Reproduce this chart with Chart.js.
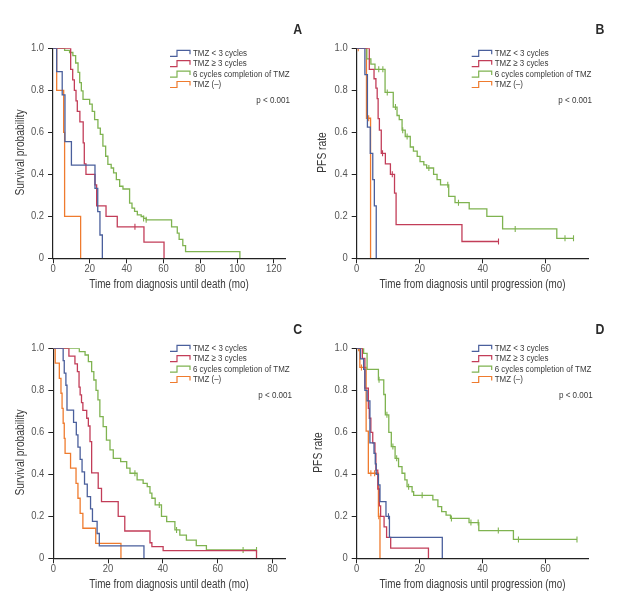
<!DOCTYPE html>
<html>
<head>
<meta charset="utf-8">
<script src="https://cdn.jsdelivr.net/npm/chart.js@4.4.0/dist/chart.umd.min.js"></script>
<style>
  html, body { margin: 0; padding: 0; background: #fff; }
  #wrap { position: relative; width: 636px; height: 600px; }
  canvas { position: absolute; }
</style>
</head>
<body>
<div id="wrap">
  <canvas id="cA" width="318" height="300" style="left:0;top:0"></canvas>
  <canvas id="cB" width="326" height="300" style="left:310px;top:0"></canvas>
  <canvas id="cC" width="318" height="300" style="left:0;top:300px"></canvas>
  <canvas id="cD" width="326" height="300" style="left:310px;top:300px"></canvas>
</div>
<script>
// legend / group names
const groups = ['TMZ < 3 cycles', 'TMZ \u2265 3 cycles', '6 cycles completion of TMZ', 'TMZ (\u2013)'];

// ---- A: overall survival (first cohort) ----
const aBlueT = [0, 2, 5, 6.5, 10, 22.8, 24.3, 25.5, 26.8];
const aBlueS = [1, 0.889, 0.778, 0.556, 0.444, 0.333, 0.222, 0.111, 0];
const aRedT = [0, 9.6, 10.7, 11.6, 12.5, 13.2, 14.6, 16.4, 17, 17.9, 22.8, 23.7, 28.8, 34.9, 49.4, 60.3];
const aRedS = [1, 0.9, 0.85, 0.8, 0.75, 0.7, 0.65, 0.55, 0.45, 0.4, 0.35, 0.25, 0.2, 0.15, 0.077, 0];
const aGreenT = [0, 6.3, 9, 10.8, 12.3, 13.6, 14.5, 15.4, 16.3, 19.9, 21.3, 22.6, 24.4, 25.7, 27.1, 28.6, 29.8, 31.6, 32.9, 34.4, 36.2, 38, 41.6, 42.9, 44.3, 45.8, 47.9, 49.2, 50.6, 64.4, 67.5, 68.5, 70.5, 72, 101.5];
const aGreenS = [1, 0.99, 0.98, 0.965, 0.93, 0.885, 0.837, 0.797, 0.757, 0.734, 0.7, 0.66, 0.62, 0.59, 0.534, 0.486, 0.447, 0.43, 0.407, 0.375, 0.343, 0.33, 0.263, 0.239, 0.223, 0.207, 0.199, 0.19, 0.183, 0.15, 0.12, 0.09, 0.06, 0.032, 0];
const aOrangeT = [0, 2, 5.8, 6.3, 15];
const aOrangeS = [1, 0.8, 0.6, 0.2, 0];
const aCensT = [[], [44.5], [49.2, 50.6], []];
const aCensS = [[], [0.15], [0.19, 0.183], []];

// ---- B: PFS (first cohort) ----
const bBlueT = [0, 2.6, 3.4, 4.3, 5.1, 5.6, 6.2];
const bBlueS = [1, 0.875, 0.625, 0.5, 0.375, 0.25, 0];
const bRedT = [0, 4.0, 5.5, 6.1, 6.5, 6.8, 7.2, 7.8, 9.1, 10.7, 12, 12.5, 33.4, 45];
const bRedS = [1, 0.9, 0.855, 0.81, 0.76, 0.665, 0.61, 0.5, 0.45, 0.4, 0.31, 0.16, 0.08, 0.08];
const bGreenT = [0, 3.2, 4.5, 5.8, 9.0, 11.6, 12.8, 13.5, 14.4, 15.4, 17, 18, 19.2, 20.1, 21.3, 22.2, 24.4, 25.5, 26.6, 29.2, 31.2, 35.7, 41.3, 46.3, 63.5, 68.8];
const bGreenS = [1, 0.95, 0.925, 0.9, 0.79, 0.72, 0.68, 0.66, 0.61, 0.58, 0.53, 0.51, 0.485, 0.46, 0.445, 0.43, 0.4, 0.375, 0.35, 0.295, 0.265, 0.235, 0.2, 0.14, 0.095, 0.095];
const bOrangeT = [0, 3.1, 4.4];
const bOrangeS = [1, 0.667, 0];
const bCensT = [[], [8.2, 11.3, 45], [7, 8.3, 9.7, 12.3, 14.6, 16, 22.9, 28.9, 32.3, 50.3, 66.1, 68.8], [0.5, 3.8]];
const bCensS = [[], [0.5, 0.4, 0.08], [0.9, 0.9, 0.79, 0.72, 0.61, 0.58, 0.43, 0.35, 0.265, 0.14, 0.095, 0.095], [1, 0.667]];

// ---- C: overall survival (second cohort) ----
const cBlueT = [0, 3.6, 4.0, 4.6, 5.0, 7.4, 8.4, 9.0, 9.8, 10.5, 11.4, 12.4, 13.6, 14.3, 16.0, 16.8, 33.1];
const cBlueS = [1, 0.941, 0.882, 0.824, 0.706, 0.647, 0.588, 0.529, 0.471, 0.412, 0.353, 0.294, 0.235, 0.176, 0.118, 0.059, 0];
const cRedT = [0, 5.7, 7.9, 8.8, 9.4, 9.8, 10.3, 10.8, 12.2, 12.8, 13.4, 14, 16.4, 17.6, 23.7, 26.1, 35.3, 36, 40.1, 74.2];
const cRedS = [1, 0.963, 0.926, 0.889, 0.815, 0.778, 0.741, 0.704, 0.667, 0.63, 0.556, 0.407, 0.333, 0.27, 0.2, 0.13, 0.074, 0.056, 0.037, 0];
const cGreenT = [0, 9.5, 11.6, 12.8, 14, 14.8, 15.6, 16.3, 17, 18.2, 19.4, 20.7, 21.9, 24.6, 26.8, 28, 30.6, 32.8, 34.3, 35.3, 36, 37.2, 39.5, 41.4, 44.4, 46.2, 48.6, 52.2, 55.9, 74.2];
const cGreenS = [1, 0.984, 0.968, 0.937, 0.889, 0.849, 0.8, 0.754, 0.675, 0.627, 0.563, 0.516, 0.476, 0.46, 0.429, 0.405, 0.373, 0.357, 0.341, 0.31, 0.286, 0.254, 0.2, 0.175, 0.135, 0.11, 0.087, 0.06, 0.04, 0.04];
const cOrangeT = [0, 0.7, 2.2, 2.8, 3.2, 3.6, 4.0, 4.3, 6.3, 8.3, 9.0, 9.8, 10.8, 15.5, 24.7];
const cOrangeS = [1, 0.929, 0.857, 0.786, 0.714, 0.643, 0.571, 0.5, 0.429, 0.357, 0.286, 0.214, 0.143, 0.071, 0];
const cCensT = [[], [], [29.8, 38.7, 45, 69.3, 74.2], []];
const cCensS = [[], [], [0.405, 0.254, 0.135, 0.04, 0.04], []];

// ---- D: PFS (second cohort) ----
const dBlueT = [0, 1.2, 2.2, 2.6, 3.3, 4.2, 5.5, 5.9, 6.2, 6.9, 7.4, 9.3, 10.4, 27.2];
const dBlueS = [1, 0.95, 0.9, 0.8, 0.75, 0.55, 0.5, 0.45, 0.4, 0.35, 0.27, 0.2, 0.1, 0];
const dRedT = [0, 1.8, 2.6, 3.7, 4.0, 4.5, 5.1, 5.8, 6.1, 6.7, 7.2, 7.6, 8.7, 9.5, 10.8, 22.8];
const dRedS = [1, 0.952, 0.81, 0.714, 0.667, 0.6, 0.55, 0.5, 0.42, 0.33, 0.25, 0.2, 0.15, 0.1, 0.048, 0];
const dGreenT = [0, 2.2, 3.3, 6.9, 8.6, 9.1, 10.2, 11, 12.2, 13.3, 14.4, 15.3, 16, 17.6, 18.1, 24.2, 25.8, 27, 28.4, 29.8, 35.7, 38.8, 49.8, 70];
const dGreenS = [1, 0.976, 0.9, 0.85, 0.78, 0.683, 0.6, 0.532, 0.476, 0.437, 0.405, 0.373, 0.341, 0.317, 0.3, 0.278, 0.246, 0.222, 0.206, 0.19, 0.17, 0.132, 0.09, 0.09];
const dOrangeT = [0, 1.0, 3.0, 3.7, 6.9, 7.4];
const dOrangeS = [1, 0.909, 0.606, 0.405, 0.2, 0];
const dCensT = [[10.1], [], [1, 7.1, 9.6, 11.5, 12.7, 16.5, 20.8, 30.1, 36.3, 38.6, 45, 51.4, 70], [0.6, 1.5, 4.5, 5.7, 7.0]];
const dCensS = [[0.2], [], [1, 0.85, 0.683, 0.532, 0.476, 0.341, 0.3, 0.19, 0.17, 0.17, 0.132, 0.09, 0.09], [1, 0.909, 0.405, 0.405, 0.2]];

const yTicks = [0, 0.2, 0.4, 0.6, 0.8, 1.0];

const colors = ['#4a5f9c', '#c23d58', '#7fb350', '#ef7b2e'];
const FAM = "'Liberation Sans', Arial, Helvetica, sans-serif";
const NARROW = 0.82; // condensed look of the original lettering

function pts(T, S) {
  return T.map((t, i) => ({ x: t, y: S[i] }));
}

function narrowText(ctx, s, x, y, align, rot) {
  ctx.save();
  ctx.translate(x, y);
  if (rot) ctx.rotate(rot);
  ctx.scale(NARROW, 1);
  ctx.textAlign = align;
  ctx.fillText(s, 0, 0);
  ctx.restore();
}

// text drawn over each panel: tick labels, letter, axis titles, legend, p value
const panelText = {
  id: 'panelText',
  afterDraw(chart, args, o) {
    const ctx = chart.ctx;
    const area = chart.chartArea;
    const xs = chart.scales.x, ys = chart.scales.y;
    ctx.save();
    ctx.textBaseline = 'middle';

    // tick labels
    ctx.fillStyle = '#555';
    ctx.font = '11.5px ' + FAM;
    xs.ticks.forEach(t => {
      narrowText(ctx, String(t.value), xs.getPixelForValue(t.value), area.bottom + 10.5, 'center');
    });
    ys.ticks.forEach(t => {
      const lab = t.value === 0 ? '0' : t.value.toFixed(1);
      narrowText(ctx, lab, area.left - 9, ys.getPixelForValue(t.value), 'right');
    });

    ctx.fillStyle = '#2b2b2b';
    ctx.font = 'bold 15px ' + FAM;
    narrowText(ctx, o.letter, o.letterX, 30, 'center');

    ctx.fillStyle = '#3a3a3a';
    ctx.font = '12px ' + FAM;
    narrowText(ctx, o.xTitle, o.xTitleX, 285, 'center');
    ctx.font = '12.5px ' + FAM;
    narrowText(ctx, o.yTitle, o.yTitleX, 152.5, 'center', -Math.PI / 2);

    ctx.font = '9.7px ' + FAM;
    groups.forEach((name, i) => {
      const x = o.legendX;
      const y = o.legendY + i * 10.4;
      ctx.strokeStyle = colors[i];
      ctx.lineWidth = 1.2;
      ctx.beginPath();
      ctx.moveTo(x, y + 3);
      ctx.lineTo(x + 7, y + 3);
      ctx.lineTo(x + 7, y - 3);
      ctx.lineTo(x + 20, y - 3);
      ctx.lineTo(x + 20, y + 1);
      ctx.stroke();
      narrowText(ctx, name, x + 23, y, 'left');
    });

    ctx.font = '9.8px ' + FAM;
    narrowText(ctx, 'p < 0.001', o.pX, o.pY, 'right');
    ctx.restore();
  }
};

function makePanel(id, series, cens, p) {
  const datasets = [];
  series.forEach((s, i) => {
    datasets.push({
      data: pts(s[0], s[1]),
      borderColor: colors[i],
      borderWidth: 1.3,
      stepped: true,
      pointRadius: 0,
      fill: false
    });
  });
  cens[0].forEach((T, i) => {
    if (!T.length) return;
    datasets.push({
      data: pts(T, cens[1][i]),
      showLine: false,
      pointStyle: 'line',
      pointRotation: 90,
      pointRadius: 3,
      pointBorderWidth: 1.1,
      pointBorderColor: colors[i],
      borderColor: colors[i]
    });
  });

  new Chart(document.getElementById(id), {
    type: 'line',
    data: { datasets: datasets },
    options: {
      responsive: false,
      animation: false,
      events: [],
      layout: { padding: { left: 0, top: 48.3, right: p.padRight, bottom: 0 } },
      scales: {
        x: {
          type: 'linear',
          min: 0,
          max: p.xMax,
          afterFit(scale) { scale.height = 41.7; },
          border: { display: true, color: '#222', width: 1.2 },
          grid: { drawOnChartArea: false, drawTicks: true, tickLength: 5, color: '#222' },
          ticks: { stepSize: 20, includeBounds: false, display: false }
        },
        y: {
          type: 'linear',
          min: 0,
          max: 1,
          afterFit(scale) { scale.width = p.yWidth; },
          afterBuildTicks(scale) { scale.ticks = yTicks.map(v => ({ value: v })); },
          border: { display: true, color: '#222', width: 1.2 },
          grid: { drawOnChartArea: false, drawTicks: true, tickLength: 5, color: '#222' },
          ticks: { display: false }
        }
      },
      plugins: {
        legend: { display: false },
        tooltip: { enabled: false },
        panelText: p.text
      }
    },
    plugins: [panelText]
  });
}

makePanel('cA',
  [[aBlueT, aBlueS], [aRedT, aRedS], [aGreenT, aGreenS], [aOrangeT, aOrangeS]],
  [aCensT, aCensS],
  { xMax: 126, yWidth: 53, padRight: 33,
    text: { letter: 'A', letterX: 297.7, xTitle: 'Time from diagnosis until death (mo)', xTitleX: 169,
            yTitle: 'Survival probability', yTitleX: 20.7, legendX: 170, legendY: 53.3, pX: 290, pY: 100 } });

makePanel('cB',
  [[bBlueT, bBlueS], [bRedT, bRedS], [bGreenT, bGreenS], [bOrangeT, bOrangeS]],
  [bCensT, bCensS],
  { xMax: 73.4, yWidth: 46.7, padRight: 48,
    text: { letter: 'B', letterX: 290, xTitle: 'Time from diagnosis until progression (mo)', xTitleX: 162.5,
            yTitle: 'PFS rate', yTitleX: 13, legendX: 161.7, legendY: 53.3, pX: 282, pY: 100 } });

makePanel('cC',
  [[cBlueT, cBlueS], [cRedT, cRedS], [cGreenT, cGreenS], [cOrangeT, cOrangeS]],
  [cCensT, cCensS],
  { xMax: 84.6, yWidth: 53.3, padRight: 33,
    text: { letter: 'C', letterX: 297.7, xTitle: 'Time from diagnosis until death (mo)', xTitleX: 169,
            yTitle: 'Survival probability', yTitleX: 20.7, legendX: 170, legendY: 48.3, pX: 292, pY: 95 } });

makePanel('cD',
  [[dBlueT, dBlueS], [dRedT, dRedS], [dGreenT, dGreenS], [dOrangeT, dOrangeS]],
  [dCensT, dCensS],
  { xMax: 73.5, yWidth: 46.7, padRight: 48,
    text: { letter: 'D', letterX: 290, xTitle: 'Time from diagnosis until progression (mo)', xTitleX: 162.5,
            yTitle: 'PFS rate', yTitleX: 9, legendX: 161.7, legendY: 48.3, pX: 282.7, pY: 95 } });
</script>
</body>
</html>
